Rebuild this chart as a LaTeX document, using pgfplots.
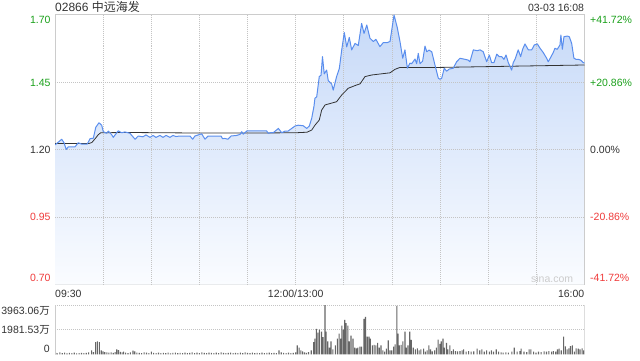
\documentclass[border=0pt]{standalone}
\usepackage{pgfplots}
\pgfplotsset{compat=1.18}
\usepackage{pgfplotstable}
\usepackage{fontspec}
\setmainfont{Liberation Sans}
\newfontfamily\cjk{Noto Sans CJK SC}
\definecolor{framec}{HTML}{CCCCCC}
\definecolor{gridc}{HTML}{C4C4C4}
\definecolor{upc}{HTML}{1BA11B}
\definecolor{dnc}{HTML}{F03C3C}
\definecolor{txt}{HTML}{333333}
\definecolor{linec}{HTML}{5A8EEE}
\definecolor{avgc}{HTML}{333333}
\definecolor{volc}{HTML}{666666}
\definecolor{filltop}{HTML}{C6D9F8}
\definecolor{fillbot}{HTML}{FAFCFF}
\newcommand\lf{\fontsize{10.5}{12}\selectfont}
\tikzset{gridl/.style={gridc, line width=0.7pt, dash pattern=on 1pt off 1pt}}

\pgfplotstableread{
m p
0 1.217
4.2 1.238
5.6 1.225
7.0 1.200
8.3 1.210
12.5 1.210
14.5 1.225
16.6 1.220
20.1 1.220
21.8 1.240
23.9 1.242
25.4 1.282
27.4 1.299
29.1 1.290
30.1 1.266
32.2 1.260
33.2 1.268
35.3 1.255
36.3 1.245
39.4 1.269
41.6 1.262
43.6 1.265
46.7 1.260
49.9 1.238
51.9 1.250
54.8 1.247
56.7 1.254
59.2 1.245
61.1 1.252
62.9 1.245
65.4 1.252
67.3 1.245
69.2 1.252
71.7 1.245
73.5 1.252
75.4 1.248
77.9 1.250
84.1 1.250
85.8 1.238
87.2 1.250
91.4 1.258
93.5 1.238
95.4 1.250
99.7 1.250
103.5 1.250
104.4 1.240
105.9 1.241
107.8 1.238
109.7 1.250
113.2 1.252
115.3 1.256
116.4 1.266
117.3 1.257
119.7 1.269
131.9 1.269
132.9 1.260
135.0 1.263
136.0 1.262
139.2 1.278
141.3 1.262
143.3 1.268
145.2 1.268
149.6 1.287
151.6 1.290
154.7 1.288
156.9 1.278
158.5 1.287
160.0 1.316
161.4 1.360
162.0 1.390
163.1 1.395
164.7 1.470
165.8 1.475
166.7 1.544
167.8 1.480
169.3 1.494
170.3 1.455
172.4 1.443
173.4 1.420
175.5 1.470
177.2 1.500
178.7 1.569
180.3 1.633
181.8 1.580
183.4 1.615
184.9 1.569
187.0 1.593
189.0 1.585
191.1 1.667
192.6 1.630
194.3 1.661
196.3 1.612
198.4 1.600
200.0 1.608
202.5 1.581
204.6 1.596
207.1 1.596
208.8 1.600
209.8 1.640
211.3 1.698
213.3 1.652
215.0 1.600
216.7 1.538
218.1 1.569
219.6 1.501
221.2 1.520
222.3 1.518
224.4 1.535
225.4 1.518
226.4 1.556
227.5 1.518
229.1 1.527
230.6 1.583
231.7 1.562
233.1 1.568
234.8 1.562
236.8 1.513
238.9 1.464
240.0 1.460
241.0 1.464
242.6 1.501
244.1 1.490
245.7 1.498
248.2 1.501
250.3 1.525
252.4 1.538
255.5 1.534
257.6 1.531
258.6 1.525
260.7 1.569
263.2 1.566
264.9 1.569
266.9 1.562
269.0 1.525
270.7 1.550
272.1 1.522
273.6 1.522
275.3 1.553
276.9 1.544
278.4 1.544
279.8 1.534
281.1 1.550
282.5 1.522
284.6 1.494
285.6 1.522
286.7 1.534
288.7 1.569
290.2 1.544
291.5 1.572
292.9 1.591
295.0 1.569
297.1 1.569
298.7 1.587
300.6 1.591
302.3 1.575
304.3 1.559
306.4 1.538
307.4 1.525
308.9 1.541
310.5 1.559
311.6 1.575
313.0 1.571
314.7 1.587
315.3 1.624
316.2 1.571
317.2 1.618
319.3 1.620
320.5 1.618
322.0 1.593
323.4 1.538
324.7 1.534
326.1 1.534
327.6 1.531
329.2 1.522
330 1.520
}\price

\pgfplotstableread{
m a
0 1.222
21 1.222
23 1.226
25 1.240
27 1.255
28.5 1.262
45 1.263
90 1.261
120 1.261
150 1.262
157 1.264
160 1.272
162 1.290
164.7 1.309
166.2 1.346
168.3 1.365
175.5 1.377
178.7 1.402
182.8 1.427
188 1.439
190.1 1.443
193.2 1.470
197.4 1.476
208.8 1.484
211.9 1.497
215 1.504
240 1.504
270 1.507
300 1.510
330 1.513
}\avg

\pgfplotstableread{
m v
0.5 120
1.5 80
3 150
4.5 90
6 130
7.5 70
9 110
10.5 90
12 140
13.5 80
15 100
16.5 120
18 90
19.5 110
21 150
22.8 317
24 180
25.3 978
26.4 1030
27.7 978
28.8 317
29.9 238
31 180
32.3 150
33.6 130
35 160
36.3 120
37.5 180
38.5 396
39.6 343
40.7 200
41.8 160
42.8 211
44 130
45.5 100
47 150
48.6 291
49.7 238
51 140
52.5 120
54 100
55.5 150
57 130
58.5 90
60.1 211
61.5 120
63 100
64.5 140
66 90
67.5 120
69 100
70.5 130
72 80
73.5 110
75 140
76.5 90
78 120
79.5 100
81 130
82.5 90
84 110
85.5 150
87 100
88.5 130
90 90
91.5 160
93 120
94.5 100
96 140
97.5 110
99 90
100.5 130
102 100
103.5 150
105 120
106.5 90
108 110
109.5 140
111 100
112.5 120
114 90
115.5 130
117 100
118.5 150
120 110
121.5 90
123 130
124.5 100
126 120
127.5 90
129 140
130.5 100
132 110
133.5 130
135 90
136.5 120
138 100
139.6 317
141 150
142.5 110
144 90
145.5 130
147 100
148.5 120
150 160
151 713
152.1 528
153.2 317
154.3 238
155.5 150
156.7 120
158 180
159.7 317
161.2 978
162 1268
162.9 2034
163.8 1744
164.8 1982
166.1 1823
167 1374
168.3 3963
168.9 1823
170 1030
171.1 528
172 1030
173.2 396
174.7 713
176 1268
177.1 1664
178 1268
178.8 2299
179.7 1982
180.6 2774
181.4 2510
182.5 2299
183.4 1030
184.5 1506
185.7 1268
186.8 528
187.9 476
188.8 528
190.1 608
191.1 608
192.6 2853
193.5 3012
194.6 1427
195.7 1427
196.5 1268
197.8 713
198.9 766
200 713
201.1 925
202.1 528
203.2 713
204.3 317
205.4 211
206.5 449
207.7 1110
208.8 317
209.9 317
211 608
212 793
213.1 3884
213.8 1664
214.6 713
215.7 766
216.8 1030
218.1 1823
219 528
220 713
221.1 1823
222 1162
223.3 528
224.6 396
225.8 476
226.9 317
228 396
229.7 449
230.8 211
231.9 317
233 713
234 396
235.1 238
236.6 317
237.7 528
238.8 1189
239.9 845
240.7 1030
241.8 1268
242.7 528
244 925
244.8 396
246.1 713
247.2 264
248.3 396
249.6 264
250.9 238
252.4 264
253.7 317
254.7 396
256.2 211
257.8 264
259.3 211
261 238
263.1 449
264.7 317
266 396
267.5 211
269 317
270.7 211
272 317
273.3 211
275 396
276.5 211
278 150
279.3 132
281 160
282.6 132
284.7 211
286.2 528
288 211
289.7 264
290.5 449
292.3 211
294 185
295.5 396
296.6 396
298.3 211
299.8 132
301.3 211
303 185
304.8 238
306.3 211
307.8 264
309.5 211
310.6 264
312.1 211
313.2 396
314.2 449
315.5 317
317 1427
318.1 634
319.2 396
320.3 476
321.3 661
322.4 713
323.7 211
324.8 476
326.1 449
327.2 396
328.5 476
329.5 317
}\vol

\begin{document}
\begin{tikzpicture}
\useasboundingbox (0pt,0pt) rectangle (640pt,360pt);
\fill[white] (0pt,0pt) rectangle (640pt,360pt);

\begin{axis}[at={(55pt,75.5pt)}, anchor=south west, scale only axis,
  width=529.5pt, height=270pt,
  xmin=0, xmax=330, ymin=0.70, ymax=1.70,
  xtick=\empty, ytick=\empty,
  axis line style={framec, line width=0.9pt}]
\addplot[draw=none, top color=filltop, bottom color=fillbot] table[x=m,y=p]{\price} |- (axis cs:0,0.70) -- cycle;
\pgfplotsinvokeforeach{30,60,90,120,150,180,210,240,270,300}{
  \draw[gridl] (axis cs:#1,0.70) -- (axis cs:#1,1.70);
}
\pgfplotsinvokeforeach{0.95,1.20,1.45}{
  \draw[gridl] (axis cs:0,#1) -- (axis cs:330,#1);
}
\addplot[avgc, line width=0.8pt, line join=round] table[x=m,y=a]{\avg};
\addplot[linec, line width=1pt, line join=round] table[x=m,y=p]{\price};
\end{axis}

\begin{axis}[at={(55pt,5.7pt)}, anchor=south west, scale only axis,
  width=529.5pt, height=49.3pt,
  xmin=0, xmax=330, ymin=0, ymax=3963.06,
  ybar, bar width=1.1pt,
  xtick=\empty, ytick=\empty,
  axis line style={draw=none}]
\draw[gridl] (axis cs:0,1981.53) -- (axis cs:330,1981.53);
\draw[gridl] (axis cs:0,3963.06) -- (axis cs:330,3963.06);
\addplot[fill=volc, draw=none] table[x=m,y=v]{\vol};
\draw[framec, line width=0.9pt] (rel axis cs:0,0) -- (rel axis cs:0,1);
\draw[framec, line width=0.9pt] (rel axis cs:1,0) -- (rel axis cs:1,1);
\end{axis}

% title and date
\node[anchor=base west, inner sep=0, text=txt, font=\fontsize{12}{14}\selectfont] at (55pt,348.5pt) {02866 {\cjk 中远海发}};
\node[anchor=base east, inner sep=0, text=txt, font=\lf] at (584.3pt,348.5pt) {03-03 16:08};

% left price labels
\node[anchor=base east, inner sep=0, text=upc, font=\lf] at (50.7pt,336.2pt) {1.70};
\node[anchor=base east, inner sep=0, text=upc, font=\lf] at (50.7pt,273.9pt) {1.45};
\node[anchor=base east, inner sep=0, text=txt, font=\lf] at (50.7pt,206.9pt) {1.20};
\node[anchor=base east, inner sep=0, text=dnc, font=\lf] at (50.7pt,139.2pt) {0.95};
\node[anchor=base east, inner sep=0, text=dnc, font=\lf] at (50.7pt,78.2pt) {0.70};

% right percent labels
\node[anchor=base west, inner sep=0, text=upc, font=\lf] at (590pt,336.2pt) {+41.72\%};
\node[anchor=base west, inner sep=0, text=upc, font=\lf] at (590pt,273.9pt) {+20.86\%};
\node[anchor=base west, inner sep=0, text=txt, font=\lf] at (590pt,206.9pt) {0.00\%};
\node[anchor=base west, inner sep=0, text=dnc, font=\lf] at (590pt,139.2pt) {-20.86\%};
\node[anchor=base west, inner sep=0, text=dnc, font=\lf] at (590pt,78.2pt) {-41.72\%};

% time labels
\node[anchor=base west, inner sep=0, text=txt, font=\lf] at (55pt,62.7pt) {09:30};
\node[anchor=base, inner sep=0, text=txt, font=\lf] at (295.7pt,62.7pt) {12:00/13:00};
\node[anchor=base east, inner sep=0, text=txt, font=\lf] at (584.5pt,62.7pt) {16:00};

% watermark
\node[anchor=base east, inner sep=0, text=black!20, font=\lf] at (573.3pt,78pt) {sina.com};

% volume labels
\node[anchor=base east, inner sep=0, text=txt, font=\lf] at (50pt,45.2pt) {3963.06{\cjk 万}};
\node[anchor=base east, inner sep=0, text=txt, font=\lf] at (50pt,26.5pt) {1981.53{\cjk 万}};
\node[anchor=base east, inner sep=0, text=txt, font=\lf] at (50pt,7.9pt) {0};
\end{tikzpicture}
\end{document}
